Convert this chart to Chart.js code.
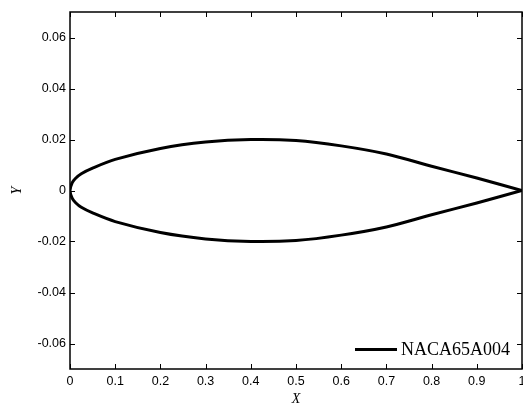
<!DOCTYPE html>
<html>
<head>
<meta charset="utf-8">
<script src="https://cdn.jsdelivr.net/npm/chart.js@4"></script>
<style>
  html, body { margin: 0; padding: 0; background: #fff; }
  #wrap { width: 523px; height: 403px; }
</style>
</head>
<body>
<div id="wrap"><canvas id="myChart" width="523" height="403"></canvas></div>
<script>
// NACA65A004 half-thickness
var xStations = [0, 0.005, 0.0125, 0.025, 0.05, 0.1, 0.2, 0.3, 0.4, 0.5, 0.6, 0.7, 0.8, 0.9, 1.0];
var upperY    = [0, 0.0031, 0.0048, 0.0066, 0.0088, 0.0122, 0.0165, 0.0190, 0.0200, 0.0196, 0.0175, 0.0143, 0.0095, 0.0049, 0];
var lowerY    = [0, -0.0031, -0.0048, -0.0066, -0.0088, -0.0122, -0.0165, -0.0190, -0.0200, -0.0196, -0.0175, -0.0143, -0.0095, -0.0049, 0];
var seriesName = "NACA65A004";
var xTicks = [0, 0.1, 0.2, 0.3, 0.4, 0.5, 0.6, 0.7, 0.8, 0.9, 1];
var yTicks = [-0.06, -0.04, -0.02, 0, 0.02, 0.04, 0.06];

// trailing edge -> upper -> leading edge -> lower -> trailing edge
var pts = [];
for (var i = xStations.length - 1; i >= 0; i--) pts.push({x: xStations[i], y: upperY[i]});
for (var j = 1; j < xStations.length; j++) pts.push({x: xStations[j], y: lowerY[j]});

// inward ticks, box, legend
var boxPlugin = {
    id: 'box',
    afterDraw: function(chart) {
        var c = chart.ctx, a = chart.chartArea;
        var xs = chart.scales.x, ys = chart.scales.y;
        c.save();
        c.strokeStyle = '#000';
        c.lineWidth = 1.5;
        c.strokeRect(a.left, a.top, a.right - a.left, a.bottom - a.top);
        c.lineWidth = 1;
        c.beginPath();
        xTicks.forEach(function(v) {
            var px = Math.round(xs.getPixelForValue(v)) + 0.5;
            c.moveTo(px, a.bottom); c.lineTo(px, a.bottom - 5);
            c.moveTo(px, a.top); c.lineTo(px, a.top + 5);
        });
        yTicks.forEach(function(v) {
            var py = Math.round(ys.getPixelForValue(v)) + 0.5;
            c.moveTo(a.left, py); c.lineTo(a.left + 5, py);
            c.moveTo(a.right, py); c.lineTo(a.right - 5, py);
        });
        c.stroke();
        // legend
        c.lineWidth = 3;
        c.beginPath();
        c.moveTo(355, 349.5); c.lineTo(397, 349.5);
        c.stroke();
        c.fillStyle = '#000';
        c.font = '18px "Liberation Serif", "Times New Roman", serif';
        c.textBaseline = 'middle';
        c.fillText(seriesName, 401, 350);
        c.restore();
    }
};

var ctx = document.getElementById("myChart");
var myChart = new Chart(ctx, {
    type: 'scatter',
    data: {
        datasets: [{
            label: seriesName,
            data: pts,
            showLine: true,
            borderColor: '#000',
            backgroundColor: '#000',
            borderWidth: 3,
            pointRadius: 0,
            tension: 0.3
        }]
    },
    options: {
        responsive: false,
        animation: false,
        layout: { autoPadding: false, padding: { top: 12, right: 1, left: 0, bottom: 0 } },
        plugins: { legend: { display: false }, tooltip: { enabled: false } },
        scales: {
            x: {
                type: 'linear', min: 0, max: 1,
                grid: { display: false, drawTicks: false, tickLength: 0 },
                border: { display: false },
                afterFit: function(s) { s.height = 34; s.paddingLeft = 0; s.paddingRight = 0; },
                afterBuildTicks: function(s) { s.ticks = xTicks.map(function(v) { return {value: v}; }); },
                ticks: {
                    padding: 5, color: '#000', maxRotation: 0,
                    font: { family: '"Liberation Sans", Arial, sans-serif', size: 12.5 },
                    callback: function(v) { return String(Math.round(v * 10) / 10); }
                },
                title: {
                    display: true, text: 'X', color: '#000', padding: { top: 0, bottom: -5 },
                    font: { family: '"Liberation Serif", "Times New Roman", serif', size: 14, style: 'italic' }
                }
            },
            y: {
                type: 'linear', min: -0.07, max: 0.07,
                grid: { display: false, drawTicks: false, tickLength: 0 },
                border: { display: false },
                afterFit: function(s) { s.width = 70; s.paddingTop = 0; s.paddingBottom = 0; },
                afterBuildTicks: function(s) { s.ticks = yTicks.map(function(v) { return {value: v}; }); },
                ticks: {
                    padding: 4, color: '#000',
                    font: { family: '"Liberation Sans", Arial, sans-serif', size: 12.5 },
                    callback: function(v) { return Math.abs(v) < 1e-9 ? '0' : v.toFixed(2); }
                },
                title: {
                    display: true, text: 'Y', color: '#000', padding: { top: 9, bottom: 0 },
                    font: { family: '"Liberation Serif", "Times New Roman", serif', size: 14, style: 'italic' }
                }
            }
        }
    },
    plugins: [boxPlugin]
});
</script>
</body>
</html>
